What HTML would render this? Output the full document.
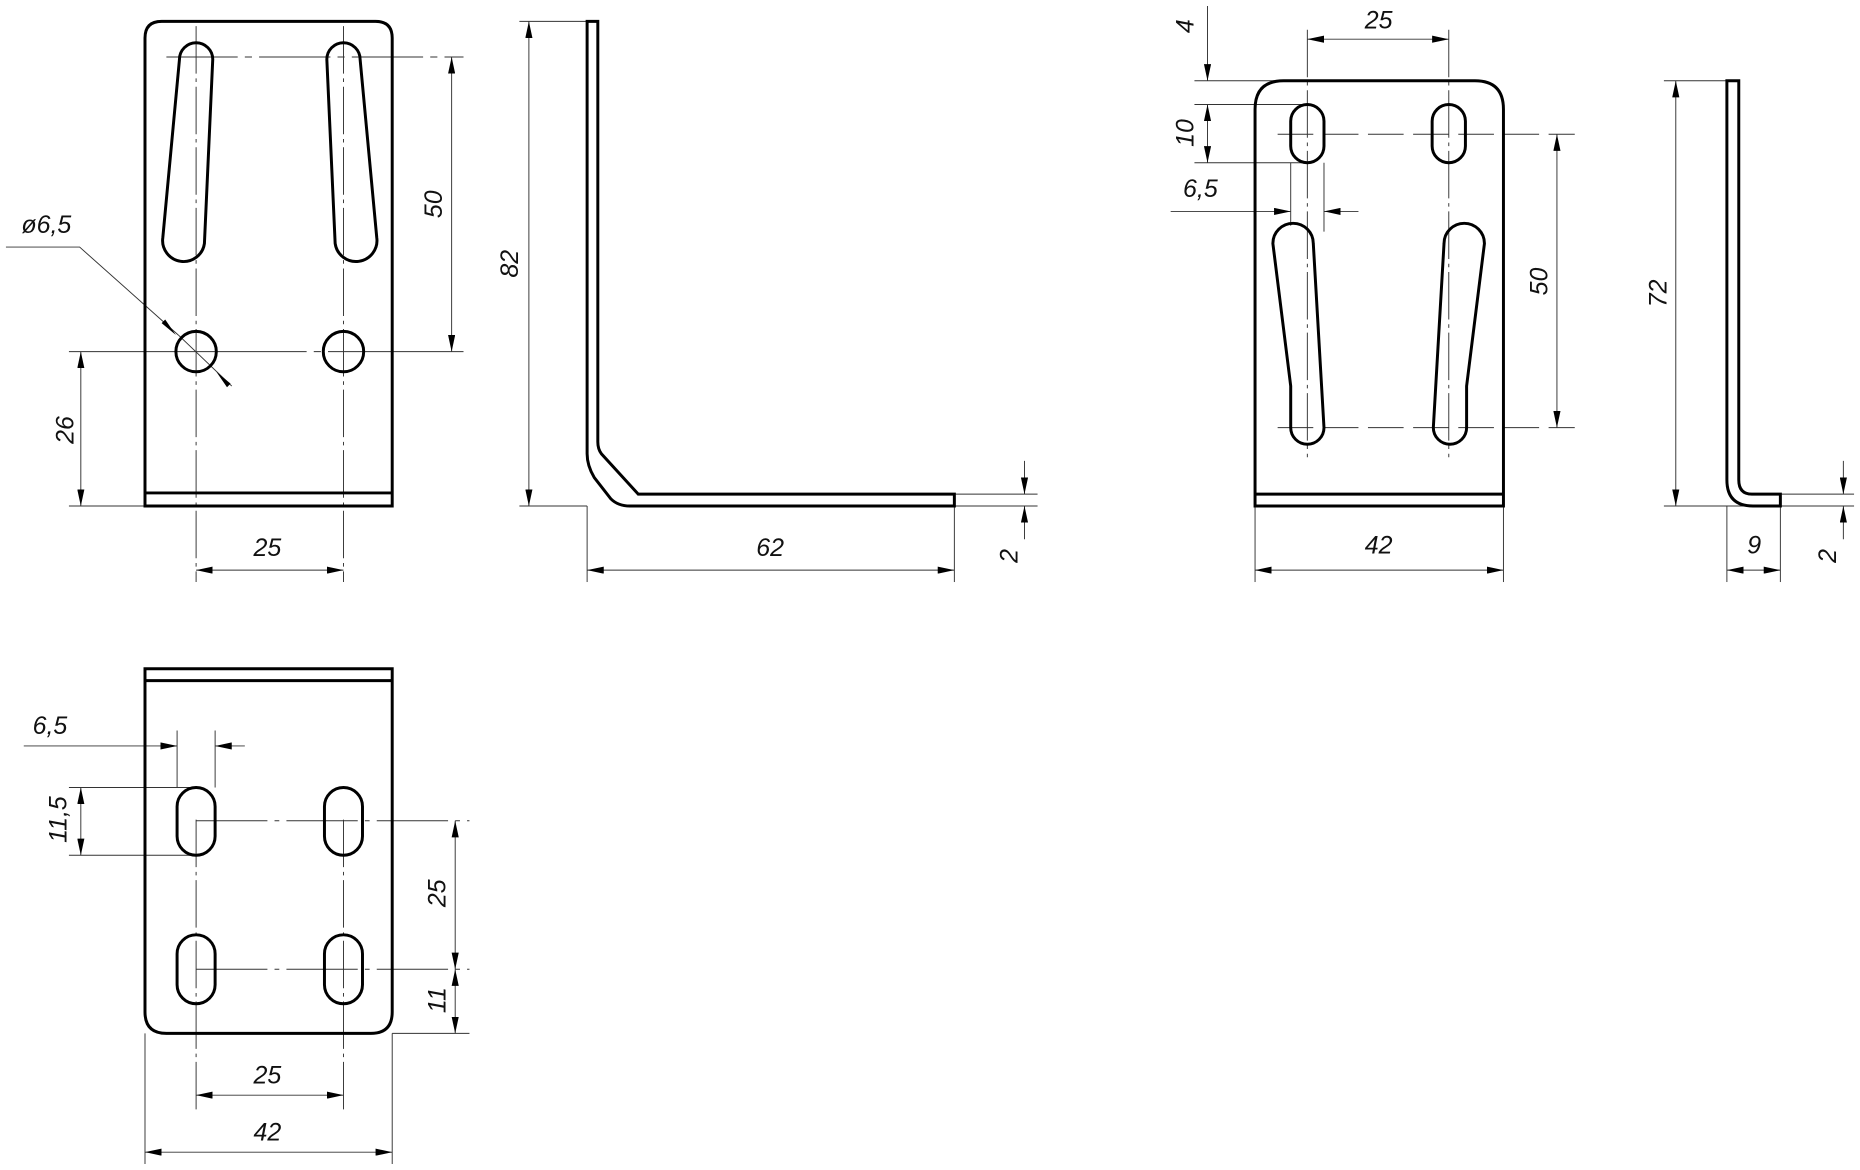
<!DOCTYPE html>
<html><head><meta charset="utf-8"><style>
html,body{margin:0;padding:0;background:#fff;}
svg{display:block;}
text{font-family:"Liberation Sans",sans-serif;font-style:italic;font-size:21px;fill:#111;}
</style></head><body>
<svg width="1860" height="1170" viewBox="0 0 1565 985" preserveAspectRatio="none" xmlns="http://www.w3.org/2000/svg">
<defs>
<marker id="a" viewBox="0 0 14 6" refX="14" refY="3" markerWidth="14" markerHeight="6" markerUnits="userSpaceOnUse" orient="auto-start-reverse"><path d="M0,0 L14,3 L0,6 z" fill="#000"/></marker>
</defs>
<g fill="none" stroke="#000">
<!-- ===== View 1 ===== -->
<g stroke-width="0.8" stroke="#333">
<line x1="165" y1="22" x2="165" y2="490" stroke-dasharray="40,4,3,4"/>
<line x1="289" y1="22" x2="289" y2="490" stroke-dasharray="40,4,3,4"/>
<line x1="140" y1="48" x2="390" y2="48" stroke-dasharray="60,6,6,6"/>
<line x1="58" y1="296" x2="390" y2="296" stroke-dasharray="200,6,6,6"/>
<line x1="58" y1="426" x2="122" y2="426"/>
<line x1="380" y1="48" x2="380" y2="296" marker-start="url(#a)" marker-end="url(#a)"/>
<line x1="68" y1="296" x2="68" y2="426" marker-start="url(#a)" marker-end="url(#a)"/>
<line x1="165" y1="480" x2="289" y2="480" marker-start="url(#a)" marker-end="url(#a)"/>
<polyline points="5,208 67,208 150,282"/>
<line x1="150" y1="282" x2="195" y2="325"/>
</g>
<path d="M148,282 l-12,-10 l3,-3z M182,313 l12,10 l-3,3z" fill="#000" stroke="none"/>
<g stroke-width="2.5">
<path d="M122,426 L122,32 Q122,18 136,18 L316,18 Q330,18 330,32 L330,426 Z"/>
<line x1="122" y1="415" x2="330" y2="415"/>
<path d="M151,50 A14,14 0 0 1 179,50 L172,205 A17,17 0 0 1 137,200 Z"/>
<path d="M275,50 A14,14 0 0 1 303,50 L317,200 A17,17 0 0 1 282,205 Z"/>
<circle cx="165" cy="296" r="17"/>
<circle cx="289" cy="296" r="17"/>
</g>
<!-- ===== View 2 ===== -->
<g stroke-width="0.8" stroke="#333">
<line x1="437" y1="18" x2="494" y2="18"/>
<line x1="437" y1="426" x2="494" y2="426"/>
<line x1="445" y1="18" x2="445" y2="426" marker-start="url(#a)" marker-end="url(#a)"/>
<line x1="494" y1="426" x2="494" y2="490"/>
<line x1="803" y1="426" x2="803" y2="490"/>
<line x1="494" y1="480" x2="803" y2="480" marker-start="url(#a)" marker-end="url(#a)"/>
<line x1="803" y1="416" x2="873" y2="416"/>
<line x1="803" y1="426" x2="873" y2="426"/>
<line x1="862" y1="388" x2="862" y2="416" marker-end="url(#a)"/>
<line x1="862" y1="454" x2="862" y2="426" marker-end="url(#a)"/>
</g>
<path d="M494,18 L494,382 Q494,392 500,402 L514,420 Q520,426 530,426 L803,426 L803,416 L537,416 L506,382 Q503,378 503,372 L503,18 Z" stroke-width="2.5"/>
<!-- ===== View 3 ===== -->
<g stroke-width="0.8" stroke="#333">
<line x1="1100" y1="25" x2="1100" y2="385" stroke-dasharray="40,4,3,4"/>
<line x1="1219" y1="25" x2="1219" y2="385" stroke-dasharray="40,4,3,4"/>
<line x1="1075" y1="113" x2="1325" y2="113" stroke-dasharray="30,8"/>
<line x1="1075" y1="360" x2="1325" y2="360" stroke-dasharray="30,8"/>
<line x1="1310" y1="113" x2="1310" y2="360" marker-start="url(#a)" marker-end="url(#a)"/>
<line x1="1100" y1="33" x2="1219" y2="33" marker-start="url(#a)" marker-end="url(#a)"/>
<line x1="1005" y1="68" x2="1080" y2="68"/>
<line x1="1005" y1="88" x2="1100" y2="88"/>
<line x1="1005" y1="137" x2="1100" y2="137"/>
<line x1="1016" y1="5" x2="1016" y2="68" marker-end="url(#a)"/>
<line x1="1016" y1="88" x2="1016" y2="137" marker-start="url(#a)" marker-end="url(#a)"/>
<line x1="1086" y1="137" x2="1086" y2="190"/>
<line x1="1114" y1="137" x2="1114" y2="195"/>
<line x1="985" y1="178" x2="1086" y2="178" marker-end="url(#a)"/>
<line x1="1143" y1="178" x2="1114" y2="178" marker-end="url(#a)"/>
<line x1="1056" y1="426" x2="1056" y2="490"/>
<line x1="1265" y1="426" x2="1265" y2="490"/>
<line x1="1056" y1="480" x2="1265" y2="480" marker-start="url(#a)" marker-end="url(#a)"/>
</g>
<g stroke-width="2.5">
<path d="M1056,426 L1056,92 Q1056,68 1080,68 L1241,68 Q1265,68 1265,92 L1265,426 Z"/>
<line x1="1056" y1="416" x2="1265" y2="416"/>
<rect x="1086" y="88" width="28" height="49" rx="14"/>
<rect x="1205" y="88" width="28" height="49" rx="14"/>
<path d="M1071,205 A17,17 0 0 1 1105,205 L1114,360 A14,14 0 0 1 1086,360 L1086,325 Z"/>
<path d="M1215,205 A17,17 0 0 1 1249,205 L1234,325 L1234,360 A14,14 0 0 1 1206,360 Z"/>
</g>
<!-- ===== View 4 ===== -->
<g stroke-width="0.8" stroke="#333">
<line x1="1400" y1="68" x2="1453" y2="68"/>
<line x1="1400" y1="426" x2="1475" y2="426"/>
<line x1="1410" y1="68" x2="1410" y2="426" marker-start="url(#a)" marker-end="url(#a)"/>
<line x1="1453" y1="426" x2="1453" y2="490"/>
<line x1="1498" y1="426" x2="1498" y2="490"/>
<line x1="1453" y1="480" x2="1498" y2="480" marker-start="url(#a)" marker-end="url(#a)"/>
<line x1="1498" y1="416" x2="1560" y2="416"/>
<line x1="1498" y1="426" x2="1560" y2="426"/>
<line x1="1551" y1="388" x2="1551" y2="416" marker-end="url(#a)"/>
<line x1="1551" y1="454" x2="1551" y2="426" marker-end="url(#a)"/>
</g>
<path d="M1453,68 L1453,404 Q1453,426 1475,426 L1498,426 L1498,416 L1474,416 Q1463,416 1463,404 L1463,68 Z" stroke-width="2.5"/>
<!-- ===== View 5 ===== -->
<g stroke-width="0.8" stroke="#333">
<line x1="165" y1="690" x2="165" y2="935" stroke-dasharray="40,4,3,4"/>
<line x1="289" y1="690" x2="289" y2="935" stroke-dasharray="40,4,3,4"/>
<line x1="165" y1="691" x2="395" y2="691" stroke-dasharray="60,6,4,6"/>
<line x1="165" y1="816" x2="395" y2="816" stroke-dasharray="60,6,4,6"/>
<line x1="330" y1="870" x2="395" y2="870"/>
<line x1="383" y1="691" x2="383" y2="816" marker-start="url(#a)" marker-end="url(#a)"/>
<line x1="383" y1="816" x2="383" y2="870" marker-start="url(#a)" marker-end="url(#a)"/>
<line x1="58" y1="663" x2="165" y2="663"/>
<line x1="58" y1="720" x2="165" y2="720"/>
<line x1="68" y1="663" x2="68" y2="720" marker-start="url(#a)" marker-end="url(#a)"/>
<line x1="149" y1="615" x2="149" y2="663"/>
<line x1="181" y1="615" x2="181" y2="663"/>
<line x1="20" y1="628" x2="149" y2="628" marker-end="url(#a)"/>
<line x1="206" y1="628" x2="181" y2="628" marker-end="url(#a)"/>
<line x1="165" y1="922" x2="289" y2="922" marker-start="url(#a)" marker-end="url(#a)"/>
<line x1="122" y1="870" x2="122" y2="980"/>
<line x1="330" y1="870" x2="330" y2="980"/>
<line x1="122" y1="970" x2="330" y2="970" marker-start="url(#a)" marker-end="url(#a)"/>
</g>
<g stroke-width="2.5">
<path d="M122,563 L330,563 L330,852 Q330,870 312,870 L140,870 Q122,870 122,852 Z"/>
<line x1="122" y1="573" x2="330" y2="573"/>
<rect x="149" y="663" width="32" height="57" rx="16"/>
<rect x="273" y="663" width="32" height="57" rx="16"/>
<rect x="149" y="787" width="32" height="58" rx="16"/>
<rect x="273" y="787" width="32" height="58" rx="16"/>
</g>
</g>
<!-- texts -->
<text x="18" y="196">ø6,5</text>
<text transform="translate(372,172) rotate(-90)" text-anchor="middle">50</text>
<text transform="translate(62,362) rotate(-90)" text-anchor="middle">26</text>
<text x="225" y="468" text-anchor="middle">25</text>
<text transform="translate(436,222) rotate(-90)" text-anchor="middle">82</text>
<text x="648" y="468" text-anchor="middle">62</text>
<text transform="translate(856,468) rotate(-90)" text-anchor="middle">2</text>
<text x="1160" y="24" text-anchor="middle">25</text>
<text transform="translate(1004,22) rotate(-90)" text-anchor="middle">4</text>
<text transform="translate(1004,112) rotate(-90)" text-anchor="middle">10</text>
<text x="1010" y="166" text-anchor="middle">6,5</text>
<text transform="translate(1302,237) rotate(-90)" text-anchor="middle">50</text>
<text x="1160" y="466" text-anchor="middle">42</text>
<text transform="translate(1402,247) rotate(-90)" text-anchor="middle">72</text>
<text x="1476" y="466" text-anchor="middle">9</text>
<text transform="translate(1545,468) rotate(-90)" text-anchor="middle">2</text>
<text x="42" y="618" text-anchor="middle">6,5</text>
<text transform="translate(56,690) rotate(-90)" text-anchor="middle">11,5</text>
<text transform="translate(375,752) rotate(-90)" text-anchor="middle">25</text>
<text transform="translate(375,842) rotate(-90)" text-anchor="middle">11</text>
<text x="225" y="912" text-anchor="middle">25</text>
<text x="225" y="960" text-anchor="middle">42</text>
</svg>
</body></html>
